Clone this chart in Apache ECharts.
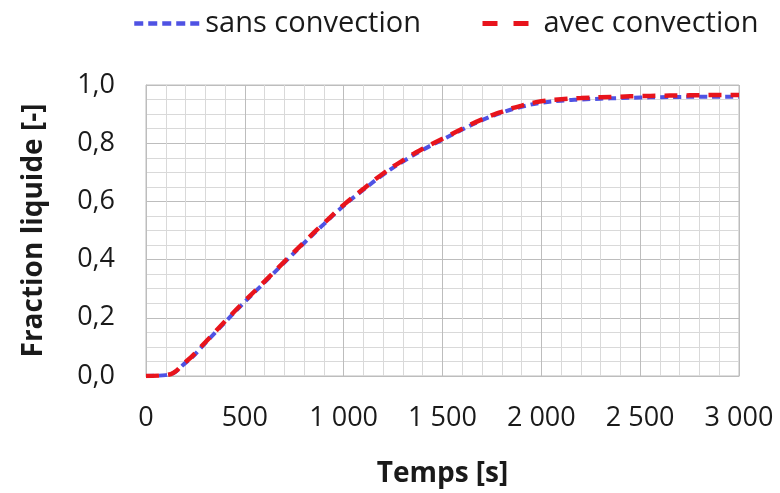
<!DOCTYPE html>
<html><head><meta charset="utf-8">
<script src="https://cdn.jsdelivr.net/npm/echarts@6/dist/echarts.min.js"></script>
<style>html,body{margin:0;padding:0;background:#fff}#c{width:780px;height:493px}</style>
</head><body><div id="c"></div>
<script>
const times = [0,100,200,300,400,500,600,700,800,900,1000,1100,1200,1300,1400,1500,1600,1700,1800,1900,2000,2100,2200,2300,2400,2500,2600,2700,2800,2900,3000];
const sansConvection = [0,0.003,0.045,0.113,0.185,0.255,0.322,0.39,0.457,0.522,0.585,0.64,0.692,0.737,0.777,0.812,0.847,0.879,0.905,0.925,0.939,0.946,0.95,0.953,0.955,0.957,0.958,0.959,0.96,0.96,0.96];
const avecConvection = [0,0.003,0.048,0.116,0.188,0.258,0.325,0.393,0.46,0.525,0.588,0.643,0.696,0.741,0.781,0.815,0.85,0.882,0.908,0.929,0.944,0.951,0.955,0.958,0.96,0.962,0.963,0.964,0.965,0.966,0.966];
const seriesNames = ['sans convection','avec convection'];
const xTitle = 'Temps [s]';
const yTitle = 'Fraction liquide [-]';

const font = 'Open Sans';
const chart = echarts.init(document.getElementById('c'));
const pairs = (v) => times.map((t,i)=>[t,v[i]]);
const legendCommon = {top:4, itemHeight:20, itemStyle:{opacity:0}};
chart.setOption({
  animation:false,
  backgroundColor:'#fff',
  legend:[
    Object.assign({data:[seriesNames[0]], left:127, itemWidth:66,
      lineStyle:{width:4.5,type:[9,5]},
      textStyle:{fontFamily:font,fontSize:29,color:'#1a1a1a',padding:[0,0,0,0]}}, legendCommon),
    Object.assign({data:[seriesNames[1]], left:475, itemWidth:46,
      lineStyle:{width:5,type:[15,16]},
      textStyle:{fontFamily:font,fontSize:29,color:'#1a1a1a',padding:[0,0,0,10]}}, legendCommon)
  ],
  grid:{left:146,right:41,top:85,bottom:117,show:true,borderColor:'#bdbdbd',borderWidth:1},
  xAxis:{type:'value',min:0,max:3000,interval:500,
    name:xTitle,nameLocation:'middle',nameGap:84,
    nameTextStyle:{fontFamily:font,fontSize:28,fontWeight:'bold',color:'#1a1a1a'},
    axisLine:{show:true,lineStyle:{color:'#bdbdbd'}},axisTick:{show:false},
    axisLabel:{margin:29,fontFamily:font,fontSize:27,color:'#1a1a1a',
      formatter:v=>String(v).replace(/\B(?=(\d{3})+(?!\d))/g,' ')},
    splitLine:{show:true,lineStyle:{color:'#bdbdbd',width:1}},
    minorTick:{show:false,splitNumber:5},
    minorSplitLine:{show:true,lineStyle:{color:'#d9d9d9',width:1}}
  },
  yAxis:{type:'value',min:0,max:1,interval:0.2,
    name:yTitle,nameLocation:'middle',nameGap:98,
    nameTextStyle:{fontFamily:font,fontSize:28,fontWeight:'bold',color:'#1a1a1a'},
    axisLine:{show:true,lineStyle:{color:'#bdbdbd'}},axisTick:{show:false},
    axisLabel:{margin:31,fontFamily:font,fontSize:27,color:'#1a1a1a',
      formatter:v=>v.toFixed(1).replace('.',',')},
    splitLine:{show:true,lineStyle:{color:'#bdbdbd',width:1}},
    minorTick:{show:false,splitNumber:4},
    minorSplitLine:{show:true,lineStyle:{color:'#d9d9d9',width:1}}
  },
  series:[
    {name:seriesNames[0],type:'line',data:pairs(sansConvection),smooth:true,symbol:'none',
     color:'#4f52e3',lineStyle:{color:'#4f52e3',width:4,type:[8,5]}},
    {name:seriesNames[1],type:'line',data:pairs(avecConvection),smooth:true,symbol:'none',
     color:'#e8141c',lineStyle:{color:'#e8141c',width:4.5,type:[13,9]}}
  ]
});
</script></body></html>
